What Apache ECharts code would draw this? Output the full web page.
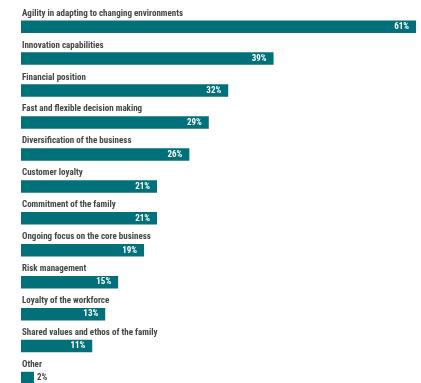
<!DOCTYPE html>
<html>
<head>
<meta charset="utf-8">
<script src="https://cdn.jsdelivr.net/npm/echarts@6/dist/echarts.min.js"></script>
<style>
  html, body { margin: 0; padding: 0; background: #fff; }
  #chart { width: 421px; height: 383px; }
</style>
</head>
<body>
<div id="chart"></div>
<script>
var categories = [
	'Agility in adapting to changing environments',
	'Innovation capabilities',
	'Financial position',
	'Fast and flexible decision making',
	'Diversification of the business',
	'Customer loyalty',
	'Commitment of the family',
	'Ongoing focus on the core business',
	'Risk management',
	'Loyalty of the workforce',
	'Shared values and ethos of the family',
	'Other'
];
var values = [61, 39, 32, 29, 26, 21, 21, 19, 15, 13, 11, 2];

var barColor = '#00707a';
var textColor = '#454545';
var fontName = '"Roboto Condensed", "Open Sans Condensed", sans-serif';

var myChart = echarts.init(document.getElementById('chart'));

// value labels, the small one goes outside
var valueData = values.map(function (v) {
	var item = { value: v };
	if (v < 5) {
		item.label = { position: 'right', distance: 3, color: textColor };
	}
	return item;
});

var option = {
	animation: false,
	grid: {
		left: 21,
		right: 5,
		top: 10.7,
		bottom: -11,
		outerBoundsMode: 'none',
		containLabel: false
	},
	xAxis: {
		type: 'value',
		min: 0,
		max: 61,
		show: false
	},
	yAxis: {
		type: 'category',
		data: categories,
		inverse: true,
		show: false
	},
	series: [
		{
			type: 'bar',
			data: valueData,
			barWidth: 12.5,
			itemStyle: { color: barColor },
			label: {
				show: true,
				position: 'insideRight',
				distance: 7,
				color: '#fff',
				fontFamily: fontName,
				fontWeight: 'bold',
				fontSize: 9,
				formatter: '{c}%'
			}
		},
		{
			// transparent copy, only carries the category names above the bars
			type: 'bar',
			data: values,
			barWidth: 12.5,
			barGap: '-100%',
			silent: true,
			itemStyle: { color: 'rgba(0,0,0,0)' },
			label: {
				show: true,
				position: [1, -7],
				align: 'left',
				verticalAlign: 'middle',
				color: textColor,
				fontFamily: fontName,
				fontWeight: 'bold',
				fontSize: 9,
				formatter: '{b}'
			}
		}
	]
};

myChart.setOption(option);
</script>
</body>
</html>
